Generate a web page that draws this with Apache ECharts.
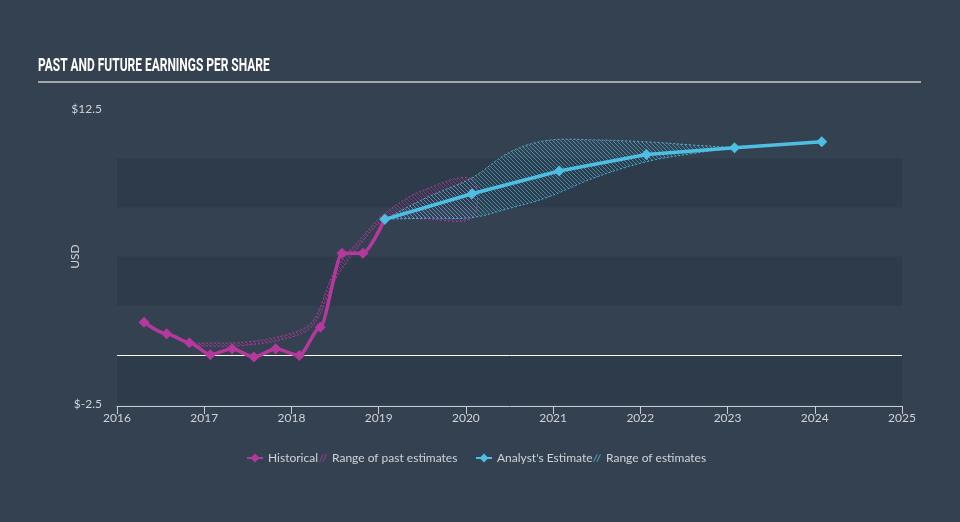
<!DOCTYPE html>
<html>
<head>
<meta charset="utf-8">
<script src="https://cdn.jsdelivr.net/npm/echarts@6/dist/echarts.min.js"></script>
<style>
  html, body { margin: 0; padding: 0; background: #344151; }
  #chart { width: 960px; height: 522px; }
</style>
</head>
<body>
<div id="chart"></div>
<script>
// ---- Data ----
const xTicks = [2016, 2017, 2018, 2019, 2020, 2021, 2022, 2023, 2024, 2025];

const histX = [2016.31, 2016.57, 2016.83, 2017.07, 2017.32, 2017.57, 2017.82, 2018.09, 2018.33, 2018.58, 2018.82, 2019.07];
const histY = [1.66, 1.07, 0.62, 0.01, 0.31, -0.11, 0.31, -0.03, 1.40, 5.16, 5.16, 6.89];

const estX = [2019.07, 2020.07, 2021.07, 2022.07, 2023.08, 2024.08];
const estY = [6.89, 8.19, 9.35, 10.19, 10.53, 10.83];

const pastRangeX    = [2016.83, 2017.0, 2017.5, 2018.0, 2018.25, 2018.5, 2018.85, 2019.07, 2019.5, 2020.07];
const pastRangeLow  = [0.62, 0.45, 0.50, 0.90, 1.50, 3.80, 5.95, 6.85, 6.92, 6.96];
const pastRangeHigh = [0.62, 0.60, 0.66, 1.10, 1.75, 4.30, 6.20, 7.20, 8.35, 8.95];

const estRangeX    = [2019.07, 2019.55, 2020.07, 2020.5, 2020.93, 2021.46, 2022.07, 2022.6, 2023.08];
const estRangeLow  = [6.89, 6.95, 6.98, 7.45, 8.00, 8.98, 9.82, 10.24, 10.53];
const estRangeHigh = [6.89, 8.00, 9.00, 10.30, 10.90, 10.93, 10.83, 10.67, 10.53];

// ---- Styling ----
const PINK = '#b5399d';
const BLUE = '#4dbfe3';
const TEXT = '#cfd3d8';

function hatch(color) {
  const c = document.createElement('canvas');
  c.width = 4; c.height = 4;
  const g = c.getContext('2d');
  g.strokeStyle = color;
  g.lineWidth = 1;
  g.beginPath();
  g.moveTo(0, 0); g.lineTo(4, 4);
  g.moveTo(-1, 3); g.lineTo(1, 5);
  g.moveTo(3, -1); g.lineTo(5, 1);
  g.stroke();
  return c;
}
const pinkHatch = hatch('rgba(181,57,157,0.7)');
const blueHatch = hatch('rgba(77,191,227,0.7)');

function bandSeries(name, xs, lows, highs, color, pattern, z) {
  return {
    name: name,
    type: 'custom',
    z: z,
    silent: true,
    itemStyle: { color: color },
    data: xs.map((x, i) => [x, lows[i], highs[i]]),
    encode: { x: 0, y: [1, 2] },
    renderItem: function (params, api) {
      if (params.dataIndex !== 0) return null;
      const up = xs.map((x, i) => api.coord([x, highs[i]]));
      const lo = xs.map((x, i) => api.coord([x, lows[i]])).reverse();
      const pts = up.concat(lo);
      return {
        type: 'polygon',
        shape: { points: pts, smooth: 0.35 },
        style: {
          fill: { image: pattern, repeat: 'repeat' },
          stroke: color,
          lineWidth: 1,
          lineDash: [2, 2],
          opacity: 0.9
        }
      };
    }
  };
}

const hatchIcon = 'path://M0,10 L5,0 L6.5,0 L1.5,10 Z M4.5,10 L9.5,0 L11,0 L6,10 Z';
const legendText = { color: TEXT, fontSize: 12, fontFamily: 'Lato' };

const chart = echarts.init(document.getElementById('chart'));
chart.setOption({
  backgroundColor: '#344151',
  animation: false,
  graphic: [
    {
      type: 'text', left: 38, top: 57,
      scaleX: 0.63,
      style: { text: 'PAST AND FUTURE EARNINGS PER SHARE', fill: '#ffffff',
               font: 'bold 19px Roboto, "DejaVu Sans", sans-serif' }
    },
    {
      type: 'line', shape: { x1: 38, y1: 82, x2: 921, y2: 82 },
      style: { stroke: '#a4a8ad', lineWidth: 2 }
    }
  ],
  legend: [
    { left: 246, top: 452, padding: 0, itemWidth: 16, itemHeight: 11, data: ['Historical'], textStyle: legendText },
    { left: 319, top: 452, padding: 0, itemWidth: 8, itemHeight: 9,
      data: [{ name: 'Range of past estimates', icon: hatchIcon, itemStyle: { color: 'rgba(181,57,157,0.75)' } }],
      textStyle: legendText },
    { left: 475, top: 452, padding: 0, itemWidth: 16, itemHeight: 11, data: ["Analyst's Estimate"], textStyle: legendText },
    { left: 593, top: 452, padding: 0, itemWidth: 8, itemHeight: 9,
      data: [{ name: 'Range of estimates', icon: hatchIcon, itemStyle: { color: 'rgba(77,191,227,0.75)' } }],
      textStyle: legendText }
  ],
  grid: { left: 117, right: 58, top: 109, bottom: 118 },
  xAxis: {
    type: 'value',
    min: xTicks[0], max: xTicks[xTicks.length - 1], interval: 1,
    offset: 2,
    axisLine: { show: true, onZero: false, lineStyle: { color: '#c9cdd2', width: 1 } },
    axisTick: { show: true, length: 8, lineStyle: { color: '#c9cdd2' } },
    axisLabel: { color: TEXT, fontSize: 12, fontFamily: 'Lato', margin: 6,
                 formatter: v => String(v) },
    splitLine: { show: false }
  },
  yAxis: {
    type: 'value',
    min: -2.5, max: 12.5, interval: 2.5,
    name: 'USD', nameLocation: 'middle', nameRotate: 90, nameGap: 36,
    nameMoveOverlap: false,
    nameTextStyle: { color: TEXT, fontSize: 12, fontFamily: 'Lato' },
    axisLine: { show: false },
    axisTick: { show: false },
    axisLabel: { color: TEXT, fontSize: 12, fontFamily: 'Lato', margin: 15,
                 formatter: v => (v === -2.5 || v === 12.5) ? '$' + v : '' },
    splitLine: { show: false },
    splitArea: { show: true, areaStyle: { color: ['#2e3b4a', '#344151'] } }
  },
  series: [
    bandSeries('Range of past estimates', pastRangeX, pastRangeLow, pastRangeHigh, PINK, pinkHatch, 2),
    bandSeries('Range of estimates', estRangeX, estRangeLow, estRangeHigh, BLUE, blueHatch, 3),
    {
      name: 'Historical', type: 'line', z: 5,
      data: histX.map((x, i) => [x, histY[i]]),
      smooth: 0.25, smoothMonotone: 'x',
      symbol: 'diamond', symbolSize: 11, showSymbol: true,
      lineStyle: { color: PINK, width: 3.5 },
      itemStyle: { color: PINK },
      markLine: {
        silent: true, symbol: 'none', label: { show: false },
        lineStyle: { color: '#ffffff', width: 1, type: 'solid' },
        data: [{ yAxis: 0 }]
      }
    },
    {
      name: "Analyst's Estimate", type: 'line', z: 6,
      data: estX.map((x, i) => [x, estY[i]]),
      smooth: false,
      symbol: 'diamond', symbolSize: 11,
      lineStyle: { color: BLUE, width: 3.5 },
      itemStyle: { color: BLUE }
    }
  ]
});
</script>
</body>
</html>
